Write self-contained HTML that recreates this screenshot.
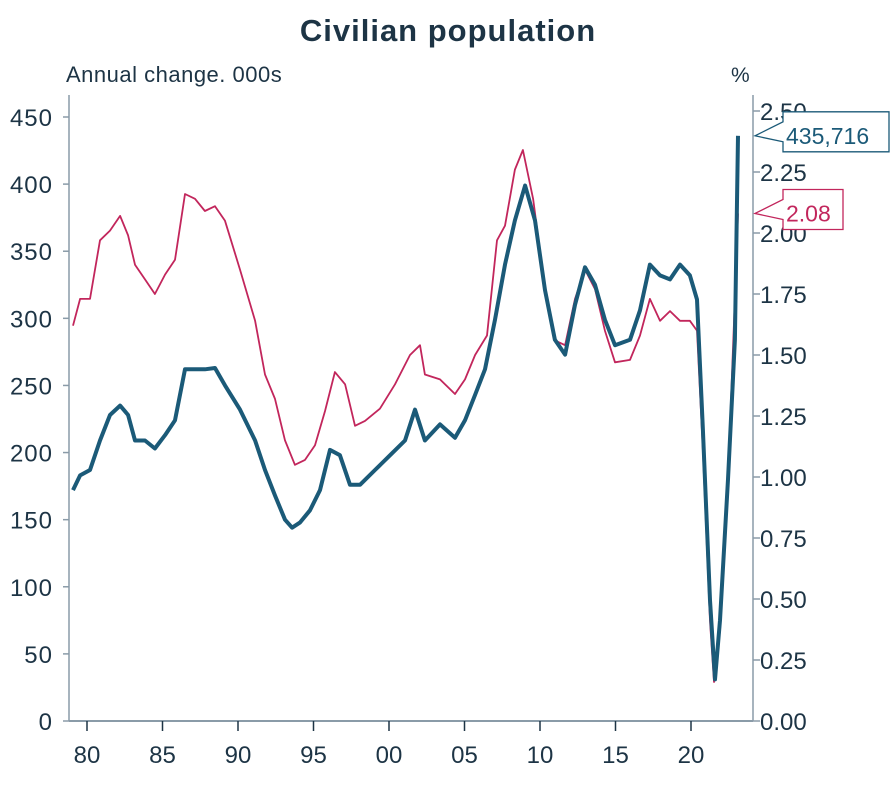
<!DOCTYPE html>
<html><head><meta charset="utf-8"><style>
body{margin:0;background:#fff;}
svg text{font-family:"Liberation Sans",sans-serif;fill:#1d3445;}
</style></head><body>
<svg width="896" height="781">
<text x="448" y="41" text-anchor="middle" font-size="31" font-weight="bold" letter-spacing="1">Civilian population</text>
<text x="66" y="82" font-size="22" letter-spacing="0.5">Annual change. 000s</text>
<text x="731" y="82" font-size="21">%</text>
<g id="axes"></g>
<g id="series"></g>
<g id="callouts"></g>
</svg>
<script>
const leftTicks=[0,50,100,150,200,250,300,350,400,450];
const rightTicks=[0,0.25,0.5,0.75,1,1.25,1.5,1.75,2,2.25,2.5];
const xTicks=[1980,1985,1990,1995,2000,2005,2010,2015,2020];
const xTickLabels=["80","85","90","95","00","05","10","15","20"];
const blueYears=[1979.07,1979.54,1980.2,1980.86,1981.52,1982.19,1982.72,1983.18,1983.84,1984.5,1985.17,1985.83,1986.49,1987.15,1987.81,1988.48,1989.14,1990.13,1991.13,1991.79,1992.45,1993.11,1993.58,1994.11,1994.77,1995.43,1996.09,1996.75,1997.42,1998.08,1999.07,2000.07,2001.06,2001.72,2002.38,2003.38,2004.37,2005.03,2005.7,2006.36,2007.02,2007.68,2008.34,2009.01,2009.67,2010.33,2010.99,2011.66,2012.32,2012.98,2013.64,2014.3,2014.97,2015.96,2016.62,2017.28,2017.95,2018.61,2019.27,2019.93,2020.4,2020.79,2021.26,2021.59,2021.92,2022.45,2022.91,2023.11];
const blueValues=[172,183,187,209,228,235,228,209,209,203,213,224,262,262,262,263,250,232,209,187,168,150,144,148,157,172,202,198,176,176,187,198,209,232,209,221,211,224,243,262,299,340,373,399,373,321,284,273,310,338,325,299,280,284,306,340,332,329,340,332,314,217,90,31,75,180,284,436];
const pinkYears=[1979.07,1979.54,1980.2,1980.86,1981.52,1982.19,1982.72,1983.18,1983.84,1984.5,1985.17,1985.83,1986.49,1987.15,1987.81,1988.48,1989.14,1990.13,1991.13,1991.79,1992.45,1993.11,1993.77,1994.44,1995.1,1995.76,1996.42,1997.09,1997.75,1998.41,1999.4,2000.4,2001.39,2002.05,2002.38,2003.38,2004.37,2005.03,2005.7,2006.49,2007.15,2007.68,2008.34,2008.87,2009.54,2010.33,2010.99,2011.66,2012.32,2012.98,2013.64,2014.3,2014.97,2015.96,2016.62,2017.28,2017.95,2018.61,2019.27,2019.93,2020.4,2020.79,2021.26,2021.52,2021.92,2022.45,2022.91,2023.11];
const pinkValues=[1.62,1.73,1.73,1.97,2.01,2.07,1.99,1.87,1.81,1.75,1.83,1.89,2.16,2.14,2.09,2.11,2.05,1.85,1.64,1.42,1.32,1.15,1.05,1.07,1.13,1.27,1.43,1.38,1.21,1.23,1.28,1.38,1.50,1.54,1.42,1.40,1.34,1.40,1.50,1.58,1.97,2.03,2.26,2.34,2.14,1.77,1.56,1.54,1.73,1.85,1.77,1.60,1.47,1.48,1.58,1.73,1.64,1.68,1.64,1.64,1.60,1.11,0.41,0.16,0.37,0.99,1.73,2.08];
const blueLabel="435,716", pinkLabel="2.08";

const NS="http://www.w3.org/2000/svg";
const X0=69,X1=753,Y0=721;
const xs=y=>87+(y-1980)*15.1;
const yl=v=>Y0-v*(604/450);
const yr=v=>Y0-v*244;
const AX="#8a9ba8", BLUE="#1b5a78", PINK="#c2265c";
function mk(tag,attrs,parent){const e=document.createElementNS(NS,tag);for(const k in attrs)e.setAttribute(k,attrs[k]);parent.appendChild(e);return e;}
const axes=document.getElementById('axes');
let e=mk('line',{x1:X0,y1:95,x2:X0,y2:Y0,stroke:AX,'stroke-width':1.5},axes);

e=mk('line',{x1:X1,y1:95,x2:X1,y2:Y0,stroke:AX,'stroke-width':1.5},axes);

e=mk('line',{x1:X0,y1:Y0,x2:X1,y2:Y0,stroke:AX,'stroke-width':2},axes);

leftTicks.forEach(v=>{
  mk('line',{x1:X0-6,x2:X0,y1:yl(v),y2:yl(v),stroke:AX,'stroke-width':1.5},axes);
  const t=mk('text',{x:53,y:yl(v)+9,'text-anchor':'end','font-size':24,'letter-spacing':1},axes);t.textContent=v;
  
});
rightTicks.forEach(v=>{
  mk('line',{x1:X1,x2:X1+7,y1:yr(v),y2:yr(v),stroke:AX,'stroke-width':1.5},axes);
  const t=mk('text',{x:760,y:yr(v)+9,'font-size':24},axes);t.textContent=v.toFixed(2);
  
});
xTicks.forEach((y,i)=>{
  mk('line',{x1:xs(y),x2:xs(y),y1:Y0,y2:Y0+10,stroke:'#1d3445','stroke-width':1.5},axes);
  const t=mk('text',{x:xs(y),y:763,'text-anchor':'middle','font-size':24},axes);t.textContent=xTickLabels[i];
  
});
const ser=document.getElementById('series');
let p=mk('path',{d:pinkYears.map((y,i)=>(i?'L':'M')+xs(y).toFixed(1)+','+yr(pinkValues[i]).toFixed(1)).join(''),fill:'none',stroke:PINK,'stroke-width':1.8,'stroke-linejoin':'round'},ser);

p=mk('path',{d:blueYears.map((y,i)=>(i?'L':'M')+xs(y).toFixed(1)+','+yl(blueValues[i]).toFixed(1)).join(''),fill:'none',stroke:BLUE,'stroke-width':4,'stroke-linejoin':'round'},ser);

const co=document.getElementById('callouts');
function callout(yy,txt,col,w,name){
  const g=mk('g',{},co);
  
  mk('path',{d:`M${X1+2},${yy} L${X1+30},${yy-14} L${X1+30},${yy-24} L${X1+30+w},${yy-24} L${X1+30+w},${yy+16} L${X1+30},${yy+16} L${X1+30},${yy+6} Z`,fill:'#fff',stroke:col,'stroke-width':1.3},g);
  const t=mk('text',{x:X1+33,y:yy+8,'font-size':23},g);t.textContent=txt;t.style.fill=col;
}
callout(yl(blueValues[blueValues.length-1]),blueLabel,BLUE,106,'last-value-callout-blue');
callout(yr(pinkValues[pinkValues.length-1]),pinkLabel,PINK,60,'last-value-callout-pink');
</script>
</body></html>
